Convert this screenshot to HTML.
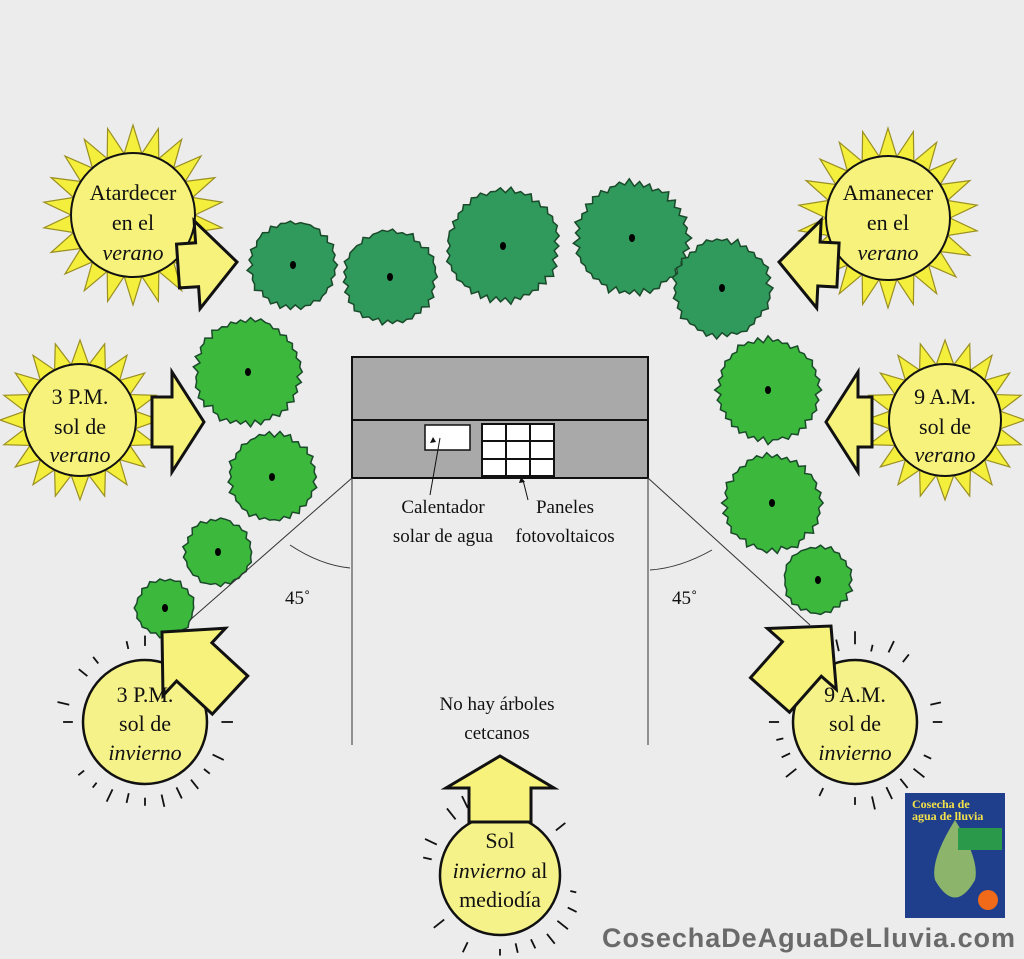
<!DOCTYPE html>
<html><head><meta charset="utf-8"><style>
html,body{margin:0;padding:0;background:#ececec;}
svg{display:block;}
text{font-family:"Liberation Serif",serif;fill:#111;}
</style></head><body>
<svg id="s" width="1024" height="959" viewBox="0 0 1024 959" xmlns="http://www.w3.org/2000/svg">
<rect width="1024" height="959" fill="#ececec"/>
<g id="trees"></g>
<g id="suns"></g>
<g id="arrows"></g>
<!-- house -->
<rect x="352" y="357" width="296" height="121" fill="#a9a9a9" stroke="#111" stroke-width="2"/>
<line x1="352" y1="420" x2="648" y2="420" stroke="#111" stroke-width="2"/>
<rect x="425" y="425" width="45" height="25" fill="#fff" stroke="#111" stroke-width="1.5"/>
<rect x="482" y="424" width="72" height="52" fill="#fff" stroke="#111" stroke-width="2"/>
<path d="M506 424V476M530 424V476M482 441H554M482 459H554" stroke="#111" stroke-width="2"/>
<path d="M440 438L430 495M523 480L528 500" stroke="#111" stroke-width="1"/>
<path d="M433 437l-3 6 6 -1zM521 477l-2 6 6-1z" fill="#111"/>
<!-- lines -->
<path d="M352 478V745M648 478V745M352 478L190 620M648 478L810 625" stroke="#333" stroke-width="1" fill="none"/>
<path d="M290 545Q320 565 350 568M712 550Q680 568 650 570" stroke="#333" stroke-width="1" fill="none"/>
<text x="285" y="604" font-size="19">45˚</text>
<text x="672" y="604" font-size="19">45˚</text>
<text x="443" y="513" font-size="19" text-anchor="middle">Calentador</text>
<text x="443" y="542" font-size="19" text-anchor="middle">solar de agua</text>
<text x="565" y="513" font-size="19" text-anchor="middle">Paneles</text>
<text x="565" y="542" font-size="19" text-anchor="middle">fotovoltaicos</text>
<text x="497" y="710" font-size="19" text-anchor="middle">No hay árboles</text>
<text x="497" y="739" font-size="19" text-anchor="middle">cetcanos</text>
<g id="labels" font-size="22" text-anchor="middle">
<text x="133" y="200">Atardecer</text><text x="133" y="230">en el</text><text x="133" y="260" font-style="italic">verano</text>
<text x="888" y="200">Amanecer</text><text x="888" y="230">en el</text><text x="888" y="260" font-style="italic">verano</text>
<text x="80" y="404">3 P.M.</text><text x="80" y="434">sol de</text><text x="80" y="462" font-style="italic">verano</text>
<text x="945" y="404">9 A.M.</text><text x="945" y="434">sol de</text><text x="945" y="462" font-style="italic">verano</text>
<text x="145" y="702">3 P.M.</text><text x="145" y="731">sol de</text><text x="145" y="760" font-style="italic">invierno</text>
<text x="855" y="702">9 A.M.</text><text x="855" y="731">sol de</text><text x="855" y="760" font-style="italic">invierno</text>
<text x="500" y="848">Sol</text><text x="500" y="878"><tspan font-style="italic">invierno</tspan> al</text><text x="500" y="907">mediodía</text>
</g>
<!-- book -->
<rect x="905" y="793" width="100" height="125" fill="#1f3e8c"/>
<path d="M955 820 Q930 860 935 880 Q955 915 975 880 Q980 860 955 820Z" fill="#8cb46a"/>
<rect x="958" y="828" width="44" height="22" fill="#2a9a4a"/>
<circle cx="988" cy="900" r="10" fill="#f06a1a"/>
<text x="912" y="808" font-size="12" font-weight="bold" style="fill:#f4e24a">Cosecha de</text>
<text x="912" y="820" font-size="12" font-weight="bold" style="fill:#f4e24a">agua de lluvia</text>
<text x="602" y="947" font-size="27" font-weight="bold" style="font-family:'Liberation Sans',sans-serif;fill:#6a6a6a" textLength="413">CosechaDeAguaDeLluvia.com</text>
</svg>
<script>
var NS="http://www.w3.org/2000/svg";
function el(p,t,a){var e=document.createElementNS(NS,t);for(var k in a)e.setAttribute(k,a[k]);p.appendChild(e);return e;}
var T=document.getElementById("trees"),S=document.getElementById("suns"),A=document.getElementById("arrows");
var seed=7;function rnd(){seed=(seed*9301+49297)%233280;return seed/233280;}
var trees=[[293,265,45,"#2f9a5c"],[390,277,48,"#2f9a5c"],[503,246,58,"#2f9a5c"],[632,238,58,"#2f9a5c"],[722,288,50,"#2f9a5c"],
[248,372,55,"#3cb83c"],[272,477,45,"#3cb83c"],[218,552,35,"#3cb83c"],[165,608,30,"#3cb83c"],[768,390,53,"#3cb83c"],[772,503,50,"#3cb83c"],[818,580,35,"#3cb83c"]];
trees.forEach(function(t){var n=Math.round(t[2]*0.6),pts=[];for(var i=0;i<n*2;i++){var a=i*Math.PI/n;var r=t[2]*(i%2?0.93:1.0)*(0.95+rnd()*0.08);pts.push((t[0]+r*Math.cos(a)).toFixed(1)+","+(t[1]+r*Math.sin(a)).toFixed(1));}
el(T,"polygon",{points:pts.join(" "),fill:t[3],stroke:"#1a4a2a","stroke-width":1.5});el(T,"ellipse",{cx:t[0],cy:t[1],rx:3,ry:4,fill:"#000"});});
function summer(cx,cy,r,R,n){var pts=[];for(var i=0;i<n*2;i++){var a=i*Math.PI/n-Math.PI/2;var rr=i%2?r:R;pts.push((cx+rr*Math.cos(a)).toFixed(1)+","+(cy+rr*Math.sin(a)).toFixed(1));}
el(S,"polygon",{points:pts.join(" "),fill:"#f3ef3c",stroke:"#9a8f20","stroke-width":1.2});el(S,"circle",{cx:cx,cy:cy,r:r,fill:"#f6f27c",stroke:"#111","stroke-width":2});}
summer(133,215,62,90,22);summer(888,218,62,90,22);summer(80,420,56,80,20);summer(945,420,56,80,20);
function winter(cx,cy,r){el(S,"circle",{cx:cx,cy:cy,r:r,fill:"#f6f28a",stroke:"#111","stroke-width":2.5});for(var i=0;i<28;i++){if(rnd()<0.25)continue;var a=i*2*Math.PI/28;var r1=r+10+rnd()*6,r2=r1+6+rnd()*8;el(S,"line",{x1:cx+r1*Math.cos(a),y1:cy+r1*Math.sin(a),x2:cx+r2*Math.cos(a),y2:cy+r2*Math.sin(a),stroke:"#111","stroke-width":1.8});}}
winter(145,722,62);winter(855,722,62);winter(500,875,60);
function arrow(x1,y1,x2,y2,w,hw,hl){var dx=x2-x1,dy=y2-y1,L=Math.hypot(dx,dy),ux=dx/L,uy=dy/L,px=-uy,py=ux;var bx=x2-ux*hl,by=y2-uy*hl;
var P=[[x1+px*w,y1+py*w],[bx+px*w,by+py*w],[bx+px*hw,by+py*hw],[x2,y2],[bx-px*hw,by-py*hw],[bx-px*w,by-py*w],[x1-px*w,y1-py*w]];
el(A,"polygon",{points:P.map(function(p){return p[0].toFixed(1)+","+p[1].toFixed(1)}).join(" "),fill:"#f6f27c",stroke:"#111","stroke-width":3,"stroke-linejoin":"miter"});}
arrow(178,266,237,262,22,44,40);arrow(838,265,779,262,22,44,40);
arrow(152,422,204,422,25,50,32);arrow(872,422,826,422,25,50,32);
arrow(230,695,162,632,26,46,44);arrow(770,695,831,626,26,46,44);
arrow(500,822,500,756,31,54,32);
</script>
</body></html>
